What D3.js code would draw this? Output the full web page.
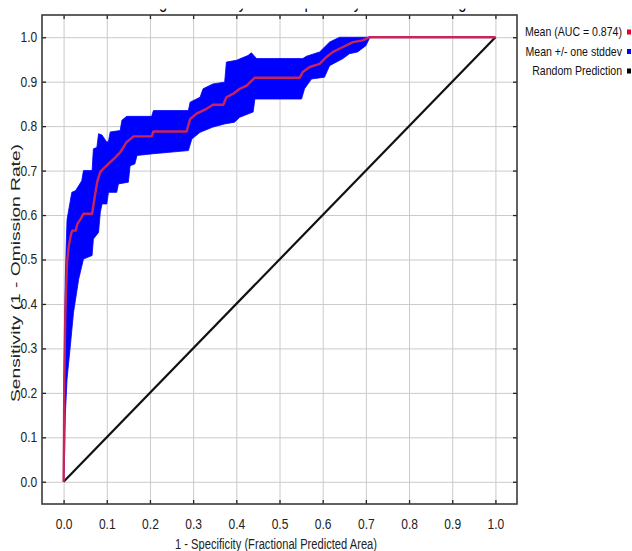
<!DOCTYPE html>
<html>
<head>
<meta charset="utf-8">
<script src="https://cdn.jsdelivr.net/npm/d3@7"></script>
<style>
  html, body { margin: 0; padding: 0; background: #fff; }
  svg { display: block; font-family: 'Liberation Sans', Arial, sans-serif; }
</style>
</head>
<body>
<div class="svg-container"></div>
<script>
// mean ROC curve, [fraction predicted area, sensitivity]
const meanCurve = [
  [0, 0], [0.001, 0.1], [0.0016, 0.231], [0.004, 0.381], [0.008, 0.494],
  [0.012, 0.53], [0.017, 0.556], [0.02, 0.565], [0.028, 0.565], [0.032, 0.58],
  [0.04, 0.592], [0.046, 0.603], [0.066, 0.603], [0.072, 0.64], [0.078, 0.675],
  [0.085, 0.697], [0.096, 0.708], [0.108, 0.719], [0.12, 0.73], [0.131, 0.741],
  [0.14, 0.755], [0.146, 0.764], [0.162, 0.777], [0.204, 0.777], [0.208, 0.788],
  [0.285, 0.788], [0.293, 0.816], [0.308, 0.828], [0.331, 0.839], [0.346, 0.848],
  [0.37, 0.848], [0.377, 0.865], [0.393, 0.873], [0.408, 0.884], [0.424, 0.891],
  [0.443, 0.909], [0.547, 0.909], [0.554, 0.922], [0.57, 0.933], [0.593, 0.94],
  [0.608, 0.955], [0.624, 0.967], [0.647, 0.978], [0.67, 0.989], [0.693, 0.993],
  [0.708, 1.0], [1.0, 1.0]
]

// mean + one stddev
const upperCurve = [
  [0, 0], [0.001, 0.2], [0.003, 0.38], [0.004, 0.456], [0.006, 0.53],
  [0.008, 0.59], [0.015, 0.629], [0.019, 0.651], [0.028, 0.655], [0.042, 0.677],
  [0.046, 0.7], [0.066, 0.7], [0.069, 0.749], [0.077, 0.752], [0.081, 0.783],
  [0.089, 0.78], [0.1, 0.764], [0.104, 0.766], [0.108, 0.787], [0.131, 0.79],
  [0.135, 0.813], [0.146, 0.822], [0.204, 0.822], [0.208, 0.835], [0.289, 0.835],
  [0.293, 0.854], [0.316, 0.865], [0.323, 0.884], [0.346, 0.895], [0.373, 0.899],
  [0.377, 0.944], [0.4, 0.948], [0.427, 0.959], [0.435, 0.965], [0.447, 0.952],
  [0.554, 0.952], [0.562, 0.957], [0.593, 0.967], [0.616, 0.989], [0.639, 1.0],
  [1.0, 1.0]
]

// mean - one stddev
const lowerCurve = [
  [0, 0], [0.002, 0.05], [0.004, 0.15], [0.008, 0.231], [0.015, 0.3],
  [0.023, 0.381], [0.035, 0.456], [0.046, 0.501], [0.066, 0.509], [0.069, 0.546],
  [0.081, 0.561], [0.085, 0.606], [0.089, 0.625], [0.1, 0.625], [0.104, 0.651],
  [0.123, 0.651], [0.127, 0.67], [0.15, 0.674], [0.154, 0.711], [0.165, 0.715],
  [0.17, 0.734], [0.208, 0.738], [0.289, 0.745], [0.297, 0.771], [0.316, 0.786],
  [0.346, 0.798], [0.373, 0.805], [0.396, 0.809], [0.408, 0.82], [0.439, 0.832],
  [0.443, 0.861], [0.551, 0.861], [0.558, 0.884], [0.574, 0.906], [0.604, 0.91],
  [0.616, 0.936], [0.647, 0.952], [0.662, 0.963], [0.681, 0.967], [0.7, 0.981],
  [0.708, 0.997], [0.71, 1.0], [1.0, 1.0]
]

const randomLine = [[0, 0], [1, 1]]

const tickValues = [0, 0.1, 0.2, 0.3, 0.4, 0.5, 0.6, 0.7, 0.8, 0.9, 1.0]
const tickLabels = ['0.0', '0.1', '0.2', '0.3', '0.4', '0.5', '0.6', '0.7', '0.8', '0.9', '1.0']

const legendLabels = ['Mean (AUC = 0.874)', 'Mean +/- one stddev', 'Random Prediction']
const legendColors = ['#e8001c', '#0000ff', '#000000']

const title = 'Average Sensitivity vs. 1 - Specificity for Panthera tigris'
const xTitle = '1 - Specificity (Fractional Predicted Area)'
const yTitle = 'Sensitivity (1 - Omission Rate)'

const width = 632
const height = 551
const plotLeft = 42, plotRight = 517, plotTop = 15, plotBottom = 504

const xScale = d3.scaleLinear().domain([-0.05, 1.05]).range([plotLeft, plotRight])
const yScale = d3.scaleLinear().domain([-0.05, 1.05]).range([plotBottom, plotTop])

const svg = d3.select('.svg-container').append('svg')
  .attr('width', width)
  .attr('height', height)

// title, only its descenders show below the white strip
svg.append('text')
  .attr('transform', 'translate(120.7,8.3) scale(0.822,1)')
  .attr('font-size', 18)
  .attr('fill', '#000')
  .text(title)
svg.append('rect')
  .attr('x', 0).attr('y', 0).attr('width', width).attr('height', 8.6)
  .attr('fill', '#fff')

// grid
const grid = svg.append('g').attr('class', 'grid')
grid.append('g')
  .attr('transform', 'translate(0,' + plotBottom + ')')
  .call(d3.axisBottom(xScale).tickValues(tickValues).tickSize(-(plotBottom - plotTop)).tickFormat(''))
grid.append('g')
  .attr('transform', 'translate(' + plotLeft + ',0)')
  .call(d3.axisLeft(yScale).tickValues(tickValues).tickSize(-(plotRight - plotLeft)).tickFormat(''))
grid.selectAll('.domain').remove()
grid.selectAll('line').attr('stroke', '#cacaca').attr('stroke-width', 1)

// std band
const line = d3.line().x((d) => xScale(d[0])).y((d) => yScale(d[1]))
svg.append('path')
  .attr('d', line(upperCurve.concat(lowerCurve.slice().reverse())) + 'Z')
  .attr('fill', '#0000ff')
  .attr('stroke', '#0000ff')
  .attr('stroke-width', 0.8)

// random prediction
svg.append('path')
  .attr('d', line(randomLine))
  .attr('fill', 'none')
  .attr('stroke', '#111')
  .attr('stroke-width', 2.2)

// mean
svg.append('path')
  .attr('d', line(meanCurve))
  .attr('fill', 'none')
  .attr('stroke', '#c8265a')
  .attr('stroke-width', 2.4)
  .attr('stroke-linejoin', 'round')

// axes with inward tick marks
const fmt = (d) => tickLabels[tickValues.indexOf(d)]

const xAxis = svg.append('g')
  .attr('class', 'axis')
  .attr('transform', 'translate(0,' + plotBottom + ')')
  .call(d3.axisBottom(xScale).tickValues(tickValues).tickSizeInner(-4).tickSizeOuter(0).tickPadding(15).tickFormat(fmt))
xAxis.selectAll('text').attr('transform', 'scale(0.86,1)')

const yAxis = svg.append('g')
  .attr('class', 'axis')
  .attr('transform', 'translate(' + plotLeft + ',0)')
  .call(d3.axisLeft(yScale).tickValues(tickValues).tickSizeInner(-4).tickSizeOuter(0).tickPadding(5.5).tickFormat(fmt))
yAxis.selectAll('text').attr('transform', 'scale(0.86,1)')

svg.append('g')
  .attr('class', 'axis')
  .attr('transform', 'translate(0,' + plotTop + ')')
  .call(d3.axisTop(xScale).tickValues(tickValues).tickSizeInner(-4).tickSizeOuter(0).tickFormat(''))

svg.append('g')
  .attr('class', 'axis')
  .attr('transform', 'translate(' + plotRight + ',0)')
  .call(d3.axisRight(yScale).tickValues(tickValues).tickSizeInner(-4).tickSizeOuter(0).tickFormat(''))

svg.selectAll('.axis .domain').remove()
svg.selectAll('.axis line').attr('stroke', '#222').attr('stroke-width', 1.3)
svg.selectAll('.axis text').attr('font-size', 14).attr('fill', '#222')
  .attr('font-family', "'Liberation Sans', Arial, sans-serif")

// frame
svg.append('rect')
  .attr('x', plotLeft).attr('y', plotTop)
  .attr('width', plotRight - plotLeft).attr('height', plotBottom - plotTop)
  .attr('fill', 'none')
  .attr('stroke', '#3a3a3a')
  .attr('stroke-width', 1.6)

// axis titles
svg.append('text')
  .attr('x', 276).attr('y', 549)
  .attr('text-anchor', 'middle')
  .attr('font-size', 14)
  .attr('fill', '#222')
  .attr('textLength', 202)
  .attr('lengthAdjust', 'spacingAndGlyphs')
  .text(xTitle)

svg.append('text')
  .attr('transform', 'translate(20,273) rotate(-90)')
  .attr('text-anchor', 'middle')
  .attr('font-size', 12.5)
  .attr('fill', '#222')
  .attr('textLength', 258)
  .attr('lengthAdjust', 'spacingAndGlyphs')
  .text(yTitle)

// legend
const legend = svg.append('g')
  .selectAll('g')
  .data(legendLabels)
  .enter()
  .append('g')
  .attr('transform', (d, i) => 'translate(0,' + (32 + i * 19.5) + ')')

legend.append('text')
  .attr('transform', 'translate(622,4.3) scale(0.88,1)')
  .attr('text-anchor', 'end')
  .attr('font-size', 12)
  .attr('fill', '#111')
  .text((d) => d)

legend.append('rect')
  .attr('x', 627).attr('y', -2.5)
  .attr('width', 4).attr('height', 5)
  .attr('fill', (d, i) => legendColors[i])
</script>
</body>
</html>
